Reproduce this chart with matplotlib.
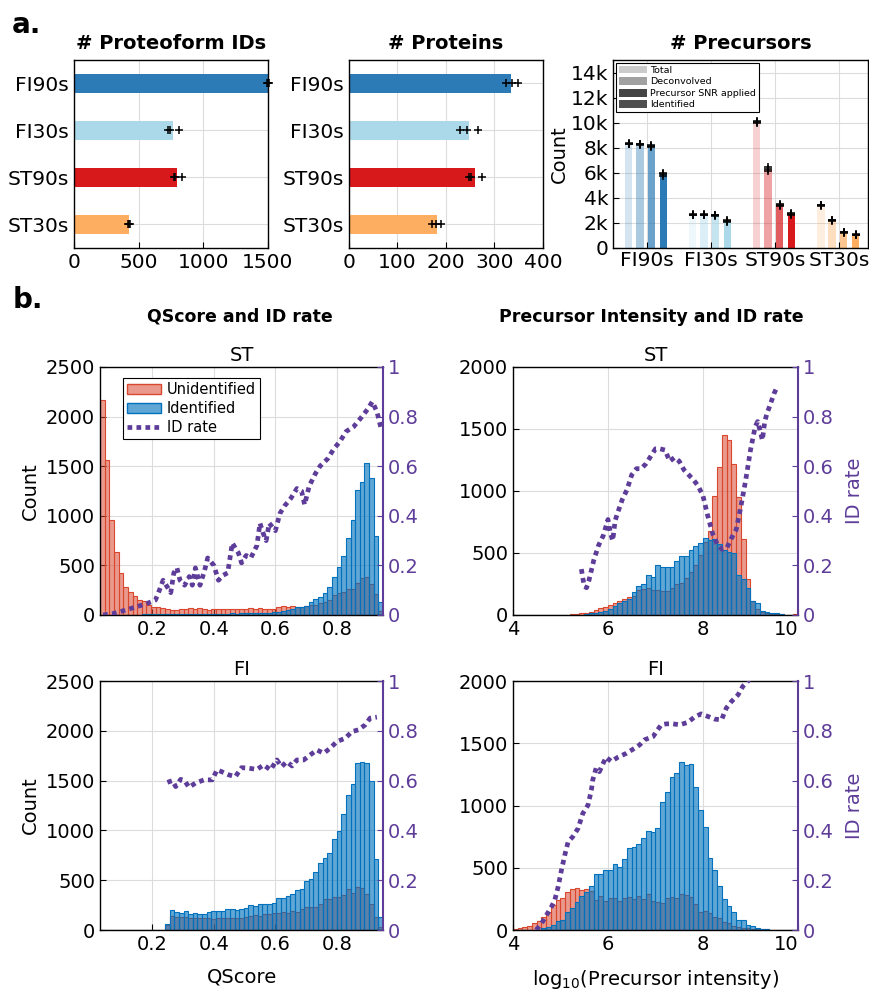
import numpy as np
import matplotlib
matplotlib.use('Agg')
import matplotlib.pyplot as plt
from matplotlib.patches import Patch
from matplotlib.lines import Line2D
from matplotlib.colors import to_rgba

plt.rcParams['font.family'] = 'DejaVu Sans'

# ---------------- panel a data ----------------
groups = ['FI90s', 'FI30s', 'ST90s', 'ST30s']
group_colors = ['#2C7BB6', '#ABD9E9', '#D7191C', '#FDAE61']

proteoform_ids = [1500, 765, 795, 424]
proteoform_reps = [[1492, 1500, 1508], [730, 745, 810], [770, 778, 838], [418, 424, 430]]

protein_ids = [334, 247, 259, 181]
protein_reps = [[324, 336, 348], [228, 243, 266], [248, 252, 274], [172, 179, 190]]

prec_levels = ['Total', 'Deconvolved', 'Precursor SNR applied', 'Identified']
prec_total = [8230, 2660, 10040, 3400]
prec_deconv = [8230, 2660, 6320, 2200]
prec_snr = [8130, 2600, 3450, 1270]
prec_ident = [5870, 2150, 2740, 1060]
prec_total_reps = [[8280, 8330, 8360], [2620, 2660, 2700], [9950, 10050, 10150], [3350, 3400, 3450]]
prec_deconv_reps = [[8200, 8260, 8320], [2620, 2660, 2700], [6150, 6300, 6450], [2150, 2200, 2250]]
prec_snr_reps = [[8080, 8130, 8180], [2560, 2600, 2650], [3350, 3450, 3550], [1230, 1270, 1310]]
prec_ident_reps = [[5750, 5870, 6000], [2080, 2150, 2200], [2660, 2740, 2820], [1020, 1060, 1100]]

# ---------------- panel b data ----------------
# QScore histograms (61 bins between 0.03 and 0.95)
st_q_unid = [2164, 1567, 956, 640, 420, 278, 235, 191, 151, 144, 101, 84, 77, 67, 64, 50,
             54, 60, 64, 67, 60, 67, 60, 55, 60, 65, 65, 60, 65, 60, 65, 65, 70, 65, 70, 65,
             60, 65, 80, 90, 85, 90, 85, 85, 90, 101, 101, 117, 134, 151, 201, 225, 235, 258,
             258, 319, 372, 386, 312, 211, 40]
st_q_id = [0, 0, 0, 1, 1, 2, 3, 3, 4, 5, 5, 5, 6, 8, 10, 8, 9, 12, 12, 12, 12, 14, 12, 10,
           14, 10, 14, 12, 16, 15, 18, 16, 20, 18, 20, 22, 25, 30, 35, 40, 50, 60, 77, 84, 94,
           134, 161, 185, 218, 285, 379, 487, 594, 775, 953, 1255, 1336, 1537, 1376, 795, 134]
fi_q_unid = [0] * 14 + [55, 140, 135, 130, 135, 125, 120, 122, 118, 120, 115, 120, 125, 120,
                        124, 117, 117, 134, 141, 151, 144, 161, 161, 168, 168, 185, 168, 191,
                        185, 208, 228, 228, 228, 262, 309, 309, 329, 329, 349, 409, 369, 436,
                        426, 362, 262, 128, 34]
fi_q_id = [0] * 14 + [64, 198, 181, 175, 191, 164, 171, 164, 158, 181, 191, 191, 191, 215,
                      208, 198, 215, 225, 248, 242, 265, 265, 265, 272, 322, 322, 339, 366,
                      406, 416, 493, 517, 584, 674, 718, 775, 909, 997, 1164, 1356, 1466,
                      1681, 1691, 1681, 1500, 708, 131]

# log10 intensity histograms (60 bins of 0.1 between 4 and 10)
st_i_unid = [0] * 10 + [2, 3, 6, 10, 14, 18, 27, 40, 54, 67, 78, 100, 113, 125, 148, 150,
                        200, 210, 215, 205, 200, 190, 190, 215, 250, 262, 300, 350, 400, 480,
                        590, 680, 960, 1190, 1450, 1415, 1215, 950, 612, 290, 110, 50, 25, 15,
                        10, 6, 4, 3, 3, 5]
st_i_id = [0] * 13 + [1, 3, 6, 13, 19, 27, 35, 46, 70, 95, 110, 130, 183, 237, 247, 325, 309,
                      406, 384, 384, 384, 433, 473, 476, 524, 556, 578, 621, 605, 610, 573,
                      524, 508, 503, 325, 288, 215, 113, 94, 35, 27, 19, 13, 8, 3, 1, 0]
fi_i_unid = [8, 13, 21, 32, 54, 73, 108, 148, 202, 242, 255, 309, 328, 336, 322, 328, 317,
             242, 274, 236, 255, 255, 236, 255, 263, 247, 274, 247, 290, 236, 228, 220, 255,
             263, 258, 290, 280, 268, 207, 145, 150, 134, 107, 94, 67, 54, 35, 24, 19, 13, 11,
             8, 6, 5, 3, 2, 1, 0, 0, 0]
fi_i_id = [0, 0, 0, 0, 0, 3, 13, 27, 40, 73, 81, 148, 175, 223, 274, 309, 357, 449, 449, 478,
           478, 532, 505, 570, 659, 667, 691, 739, 793, 788, 819, 1028, 1106, 1230, 1262, 1350,
           1329, 1334, 1146, 966, 824, 577, 483, 357, 247, 196, 142, 81, 78, 38, 35, 19, 10, 5,
           3, 2, 0, 0, 0, 0]

# ID rate curves
st_q_rate_x = [0.04, 0.07, 0.10, 0.14, 0.18, 0.21, 0.22, 0.235, 0.26, 0.27, 0.28, 0.29, 0.305,
               0.32, 0.33, 0.34, 0.355, 0.37, 0.38, 0.40, 0.415, 0.43, 0.445, 0.46, 0.48, 0.49,
               0.505, 0.52, 0.54, 0.55, 0.56, 0.57, 0.58, 0.60, 0.615, 0.63, 0.65, 0.67, 0.685,
               0.695, 0.71, 0.73, 0.745, 0.77, 0.79, 0.81, 0.83, 0.855, 0.875, 0.90, 0.915,
               0.93, 0.944]
st_q_rate = [0.0, 0.005, 0.015, 0.03, 0.045, 0.06, 0.09, 0.14, 0.09, 0.17, 0.19, 0.14, 0.12,
             0.155, 0.12, 0.19, 0.12, 0.18, 0.23, 0.20, 0.14, 0.16, 0.17, 0.29, 0.25, 0.21,
             0.24, 0.23, 0.28, 0.37, 0.33, 0.30, 0.37, 0.34, 0.41, 0.44, 0.47, 0.51, 0.50,
             0.445, 0.52, 0.57, 0.60, 0.63, 0.67, 0.70, 0.74, 0.76, 0.79, 0.83, 0.86, 0.82,
             0.75]
fi_q_rate_x = [0.249, 0.265, 0.276, 0.292, 0.305, 0.319, 0.34, 0.368, 0.395, 0.41, 0.425,
               0.449, 0.47, 0.49, 0.513, 0.54, 0.562, 0.584, 0.605, 0.62, 0.637, 0.654, 0.67,
               0.692, 0.713, 0.735, 0.757, 0.778, 0.80, 0.827, 0.849, 0.87, 0.892, 0.908, 0.93]
fi_q_rate = [0.593, 0.60, 0.576, 0.605, 0.60, 0.573, 0.59, 0.603, 0.603, 0.643, 0.636, 0.623,
             0.616, 0.652, 0.65, 0.645, 0.663, 0.643, 0.683, 0.656, 0.676, 0.659, 0.683, 0.683,
             0.703, 0.723, 0.71, 0.73, 0.757, 0.77, 0.797, 0.804, 0.824, 0.851, 0.855]
st_i_rate_x = [5.44, 5.5, 5.55, 5.6, 5.7, 5.8, 5.9, 6.0, 6.05, 6.1, 6.15, 6.2, 6.3, 6.4, 6.5,
               6.6, 6.7, 6.8, 6.9, 7.0, 7.1, 7.2, 7.3, 7.4, 7.5, 7.6, 7.7, 7.8, 7.9, 8.0, 8.1,
               8.2, 8.3, 8.4, 8.5, 8.6, 8.7, 8.8, 8.9, 9.0, 9.1, 9.15, 9.2, 9.25, 9.3, 9.35,
               9.4, 9.5, 9.55]
st_i_rate = [0.185, 0.115, 0.11, 0.14, 0.22, 0.28, 0.32, 0.385, 0.33, 0.30, 0.38, 0.41, 0.465,
             0.505, 0.565, 0.59, 0.59, 0.61, 0.64, 0.67, 0.67, 0.665, 0.62, 0.635, 0.62, 0.585,
             0.565, 0.545, 0.52, 0.48, 0.40, 0.33, 0.285, 0.265, 0.27, 0.31, 0.345, 0.44,
             0.545, 0.665, 0.76, 0.78, 0.745, 0.705, 0.78, 0.815, 0.84, 0.895, 0.915]
fi_i_rate_x = [4.49, 4.6, 4.7, 4.81, 4.88, 4.95, 5.02, 5.09, 5.16, 5.26, 5.37, 5.47, 5.58,
               5.65, 5.68, 5.75, 5.82, 5.9, 5.96, 6.07, 6.21, 6.39, 6.56, 6.67, 6.77, 6.95,
               7.02, 7.12, 7.23, 7.37, 7.51, 7.68, 7.82, 7.96, 8.1, 8.25, 8.39, 8.49, 8.6,
               8.74, 8.84, 8.95, 9.05]
fi_i_rate = [0.0, 0.026, 0.058, 0.093, 0.12, 0.173, 0.24, 0.30, 0.354, 0.375, 0.408, 0.468,
             0.502, 0.562, 0.603, 0.65, 0.636, 0.67, 0.694, 0.677, 0.694, 0.71, 0.73, 0.744,
             0.764, 0.777, 0.797, 0.824, 0.828, 0.828, 0.824, 0.834, 0.855, 0.868, 0.858,
             0.847, 0.844, 0.891, 0.918, 0.945, 0.979, 1.0, 1.04]

# ---------------- styling ----------------
red = '#D9472F'
blue = '#0072BD'
purple = '#5E3C99'
grid_col = '#DCDCDC'
tick_fs = 14


def style_axes(ax):
    ax.tick_params(direction='in', length=4, width=0.8, labelsize=tick_fs)
    ax.grid(True, color=grid_col, linewidth=0.8)
    ax.set_axisbelow(True)
    for s in ax.spines.values():
        s.set_linewidth(1.0)


def hbar_panel(ax, values, reps, xmax, xticks, title):
    y = np.arange(1, len(groups) + 1)
    ax.barh(y, values, height=0.4, color=group_colors, edgecolor='none')
    for yi, r in zip(y, reps):
        ax.plot(r, [yi] * len(r), '+', color='k', ms=6, mew=1.1, clip_on=False)
    ax.set_yticks(y)
    ax.set_yticklabels(groups)
    ax.set_ylim(4.5, 0.5)
    ax.set_xlim(0, xmax)
    ax.set_xticks(xticks)
    style_axes(ax)
    ax.tick_params(labelsize=14.5)
    ax.set_title(title, fontsize=14, fontweight='bold', pad=8)


def hist_panel(ax, edges, unid, ident, rx, ry, ymax, yticks, xticks, title):
    w = np.diff(edges)
    ax.bar(edges[:-1], unid, width=w, align='edge', facecolor=to_rgba(red, 0.55),
           edgecolor=red, linewidth=0.8)
    ax.bar(edges[:-1], ident, width=w, align='edge', facecolor=to_rgba(blue, 0.62),
           edgecolor=blue, linewidth=0.8)
    ax.set_xlim(edges[0], edges[-1])
    ax.set_ylim(0, ymax)
    ax.set_yticks(yticks)
    ax.set_xticks(xticks)
    style_axes(ax)
    ax.spines['right'].set_visible(False)
    ax.set_title(title, fontsize=14, pad=4)

    ax2 = ax.twinx()
    ax2.plot(rx, ry, color=purple, linestyle=(0, (1, 0.9)), linewidth=3.4)
    ax2.set_ylim(0, 1)
    ax2.set_yticks([0, 0.2, 0.4, 0.6, 0.8, 1])
    ax2.set_yticklabels(['0', '0.2', '0.4', '0.6', '0.8', '1'])
    ax2.tick_params(direction='in', length=4, width=0.8, labelsize=tick_fs,
                    colors=purple)
    ax2.spines['right'].set_color(purple)
    ax2.spines['right'].set_linewidth(1.5)
    for side in ['left', 'top', 'bottom']:
        ax2.spines[side].set_visible(False)
    return ax2


fig = plt.figure(figsize=(8.69, 9.9), dpi=100)

# ---- a: bar panels ----
ax_a1 = fig.add_axes([0.0852, 0.7495, 0.2232, 0.1899])
hbar_panel(ax_a1, proteoform_ids, proteoform_reps, 1500, [0, 500, 1000, 1500], '# Proteoform IDs')

ax_a2 = fig.add_axes([0.4016, 0.7495, 0.2232, 0.1899])
hbar_panel(ax_a2, protein_ids, protein_reps, 400, [0, 100, 200, 300, 400], '# Proteins')

ax_a3 = fig.add_axes([0.7054, 0.7495, 0.2934, 0.1899])
xg = np.arange(1, len(groups) + 1)
offsets = [-0.286, -0.109, 0.069, 0.256]
alphas = [0.2, 0.4, 0.7, 1.0]
level_vals = [prec_total, prec_deconv, prec_snr, prec_ident]
level_reps = [prec_total_reps, prec_deconv_reps, prec_snr_reps, prec_ident_reps]
for off, a, vals, reps in zip(offsets, alphas, level_vals, level_reps):
    cols = [to_rgba(c, a) for c in group_colors]
    ax_a3.bar(xg + off, vals, width=0.115, color=cols, edgecolor='none')
    for xi, r in zip(xg + off, reps):
        ax_a3.plot([xi] * len(r), r, '+', color='k', ms=6, mew=1.1)
ax_a3.set_xlim(0.469, 4.45)
ax_a3.set_ylim(0, 15000)
ax_a3.set_xticks(xg)
ax_a3.set_xticklabels(groups)
ax_a3.set_yticks(np.arange(0, 14001, 2000))
ax_a3.set_yticklabels(['0', '2k', '4k', '6k', '8k', '10k', '12k', '14k'])
style_axes(ax_a3)
ax_a3.tick_params(labelsize=14.5)
ax_a3.tick_params(axis='x', pad=2)
ax_a3.set_ylabel('Count', fontsize=14, labelpad=1)
ax_a3.set_title('# Precursors', fontsize=14, fontweight='bold', pad=8)
leg_grays = [to_rgba('#303030', a) for a in [0.25, 0.45, 0.9, 0.85]]
handles = [Patch(facecolor=c, edgecolor='none') for c in leg_grays]
ax_a3.legend(handles, prec_levels, loc='upper left', fontsize=6.8, frameon=True,
             fancybox=False, edgecolor='black', framealpha=1, handlelength=3.0,
             handleheight=0.9, borderpad=0.3, labelspacing=0.25, handletextpad=0.3,
             borderaxespad=0.3).get_frame().set_linewidth(0.8)

# ---- b: histograms ----
q_edges = np.linspace(0.03, 0.95, len(st_q_unid) + 1)
i_edges = np.linspace(4, 10, len(st_i_unid) + 1)
q_ticks = [0.2, 0.4, 0.6, 0.8]
i_ticks = [4, 6, 8, 10]

ax_b1 = fig.add_axes([0.1151, 0.3788, 0.3257, 0.2505])
hist_panel(ax_b1, q_edges, st_q_unid, st_q_id, st_q_rate_x, st_q_rate, 2500,
           np.arange(0, 2501, 500), q_ticks, 'ST')
ax_b1.set_xticklabels(['0.2', '0.4', '0.6', '0.8'])
ax_b1.set_ylabel('Count', fontsize=14)
leg_handles = [Patch(facecolor=to_rgba(red, 0.55), edgecolor=red),
               Patch(facecolor=to_rgba(blue, 0.62), edgecolor=blue),
               Line2D([0], [0], color=purple, linestyle=(0, (1, 0.9)), linewidth=3.4)]
leg = ax_b1.legend(leg_handles, ['Unidentified', 'Identified', 'ID rate'],
                   loc='upper left', bbox_to_anchor=(0.055, 0.985), fontsize=10.5,
                   frameon=True, fancybox=False, edgecolor='black', framealpha=1,
                   handlelength=2.3, borderpad=0.3, labelspacing=0.25, handletextpad=0.4)
leg.get_frame().set_linewidth(0.8)
leg.set_zorder(10)

ax_b2 = fig.add_axes([0.5903, 0.3788, 0.328, 0.2505])
t2 = hist_panel(ax_b2, i_edges, st_i_unid, st_i_id, st_i_rate_x, st_i_rate, 2000,
                np.arange(0, 2001, 500), i_ticks, 'ST')
t2.set_ylabel('ID rate', fontsize=14, color=purple, labelpad=8)

ax_b3 = fig.add_axes([0.1151, 0.0606, 0.3257, 0.2515])
hist_panel(ax_b3, q_edges, fi_q_unid, fi_q_id, fi_q_rate_x, fi_q_rate, 2500,
           np.arange(0, 2501, 500), q_ticks, 'FI')
ax_b3.set_xticklabels(['0.2', '0.4', '0.6', '0.8'])
ax_b3.set_ylabel('Count', fontsize=14)
ax_b3.set_xlabel('QScore', fontsize=14, labelpad=10)

ax_b4 = fig.add_axes([0.5903, 0.0606, 0.328, 0.2515])
t4 = hist_panel(ax_b4, i_edges, fi_i_unid, fi_i_id, fi_i_rate_x, fi_i_rate, 2000,
                np.arange(0, 2001, 500), i_ticks, 'FI')
t4.set_ylabel('ID rate', fontsize=14, color=purple, labelpad=8)
ax_b4.set_xlabel(r'log$_{10}$(Precursor intensity)', fontsize=14, labelpad=10)

# keep the last x label ("10") clear of the right-axis "0"
for ax in (ax_b2, ax_b4):
    ax.get_xticklabels()[-1].set_horizontalalignment('right')

# ---- figure labels ----
fig.text(0.014, 0.975, 'a.', fontsize=20, fontweight='bold', va='center')
fig.text(0.014, 0.697, 'b.', fontsize=20, fontweight='bold', va='center')
fig.text(0.276, 0.680, 'QScore and ID rate', fontsize=12.5, fontweight='bold',
         ha='center', va='center')
fig.text(0.749, 0.680, 'Precursor Intensity and ID rate', fontsize=12.5,
         fontweight='bold', ha='center', va='center')

fig.savefig('out.png', dpi=100)
